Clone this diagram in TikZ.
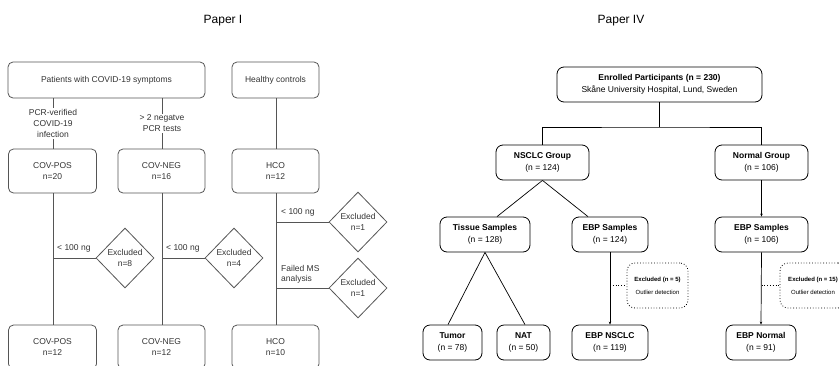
\documentclass[tikz,border=0pt]{standalone}
\usepackage{fontspec}
\setmainfont{Liberation Sans}
\usetikzlibrary{shapes.geometric,arrows.meta}
\definecolor{lg}{HTML}{555555}
\definecolor{lt}{HTML}{333333}
\tikzset{
  lbox/.style={draw=lg, line width=0.8pt, rounded corners=5pt, inner sep=1pt, align=center, text=lt, font=\fontsize{8.5}{10.5}\selectfont},
  ldia/.style={draw=lg, line width=0.8pt, diamond, inner sep=0pt, minimum width=58pt, minimum height=60pt, align=center, text=lt, font=\fontsize{8.5}{10.5}\selectfont},
  lline/.style={draw=lg, line width=0.8pt},
  llab/.style={text=lt, font=\fontsize{8.5}{10}\selectfont, inner sep=1pt},
  rbox/.style={draw=black, line width=0.8pt, rounded corners=7pt, inner sep=1pt, align=center, minimum height=35pt, font=\fontsize{8.5}{12.5}\selectfont},
  rexc/.style={draw=black, dotted, line width=0.8pt, rounded corners=8pt, inner sep=1pt, align=center, minimum width=61pt, minimum height=45pt, font=\fontsize{6}{13}\selectfont},
  rline/.style={draw=black, line width=0.7pt},
  rarr/.style={draw=black, line width=0.7pt, -{Stealth[length=3pt,width=2.5pt]}},
  title/.style={font=\fontsize{12}{14}\selectfont}
}
\begin{document}
\begin{tikzpicture}[x=1pt,y=-1pt]
\useasboundingbox (0,0) rectangle (839,365);
% titles
\node[title] (t1) at (223,21) {Paper I};
\node[title] (t2) at (621,21) {Paper IV};
% ---------- Paper I ----------
\node[lbox, minimum width=197pt, minimum height=36pt] (pat) at (106.5,80) {Patients with COVID-19 symptoms};
\node[lbox, minimum width=87pt, minimum height=36pt] (hc) at (275.5,80) {Healthy controls};
\node[lbox, minimum width=88pt, minimum height=44pt] (cp1) at (52.5,171) {COV-POS\\n=20};
\node[lbox, minimum width=87pt, minimum height=44pt] (cn1) at (161.5,171) {COV-NEG\\n=16};
\node[lbox, minimum width=87pt, minimum height=44pt] (hco1) at (275.5,171) {HCO\\n=12};
\node[lbox, minimum width=88pt, minimum height=44pt] (cp2) at (52.5,347) {COV-POS\\n=12};
\node[lbox, minimum width=87pt, minimum height=44pt] (cn2) at (161.5,347) {COV-NEG\\n=12};
\node[lbox, minimum width=87pt, minimum height=44pt] (hco2) at (275.5,347) {HCO\\n=10};
\node[ldia] (d1) at (125,258) {Excluded\\n=8};
\node[ldia] (d2) at (234,258) {Excluded\\n=4};
\node[ldia] (d3) at (358,222) {Excluded\\n=1};
\node[ldia] (d4) at (358,288) {Excluded\\n=1};
\coordinate (b1) at (53,258);
\coordinate (b2) at (162,258);
\coordinate (b3) at (276,222);
\coordinate (b4) at (276,288);
\draw[lline] (pat.south -| b1) -- node[fill=white, llab, align=center, font=\fontsize{8.5}{11}\selectfont] {PCR-verified\\COVID-19\\infection} (cp1.north -| b1);
\draw[lline] (pat.south -| b2) -- node[fill=white, llab, align=center, font=\fontsize{8.5}{11}\selectfont] {> 2 negatve\\PCR tests} (cn1.north -| b2);
\draw[lline] (hc.south -| b3) -- (hco1.north -| b3);
\draw[lline] (cp1.south -| b1) -- (cp2.north -| b1);
\draw[lline] (cn1.south -| b2) -- (cn2.north -| b2);
\draw[lline] (hco1.south -| b3) -- (hco2.north -| b3);
\draw[lline] (b1) -- (d1.west);
\draw[lline] (b2) -- (d2.west);
\draw[lline] (b3) -- (d3.west);
\draw[lline] (b4) -- (d4.west);
\node[llab, anchor=south west] (l1) at (56,253) {< 100 ng};
\node[llab, anchor=south west] (l2) at (165,253) {< 100 ng};
\node[llab, anchor=south west] (l3) at (280,217) {< 100 ng};
\node[llab, anchor=south west, align=left, font=\fontsize{8.5}{10}\selectfont] (l4) at (280,284) {Failed MS\\analysis};
% ---------- Paper IV ----------
\node[rbox, minimum width=205pt] (enr) at (659.5,84.5) {\textbf{Enrolled Participants (n = 230)}\\Skåne University Hospital, Lund, Sweden};
\node[rbox, minimum width=93pt] (nsc) at (542.5,162.5) {\textbf{NSCLC Group}\\(n = 124)};
\node[rbox, minimum width=93pt] (nor) at (761.5,162.5) {\textbf{Normal Group}\\(n = 106)};
\node[rbox, minimum width=90pt] (tis) at (485,234.5) {\textbf{Tissue Samples}\\(n = 128)};
\node[rbox, minimum width=76pt] (eb1) at (610,234.5) {\textbf{EBP Samples}\\(n = 124)};
\node[rbox, minimum width=93pt] (eb2) at (761.5,234.5) {\textbf{EBP Samples}\\(n = 106)};
\node[rbox, minimum width=59pt] (tum) at (452.5,342.5) {\textbf{Tumor}\\(n = 78)};
\node[rbox, minimum width=53pt] (nat) at (523.5,342.5) {\textbf{NAT}\\(n = 50)};
\node[rbox, minimum width=76pt] (ebn) at (610,342.5) {\textbf{EBP NSCLC}\\(n = 119)};
\node[rbox, minimum width=70pt] (ebm) at (761,342.5) {\textbf{EBP Normal}\\(n = 91)};
\node[rexc] (x1) at (657.5,285.5) {\textbf{Excluded (n = 5)}\\Outlier detection};
\node[rexc, minimum width=66pt] (x2) at (813,285.5) {\textbf{Excluded (n = 15)}\\Outlier detection};
\coordinate (j) at (659.5,127);
\draw[rline] (enr.south) -- (j);
\draw[rline] (nsc.north) |- (j) -| (nor.north);
\draw[rline] (nsc.south) -- (tis.north -| 497,0);
\draw[rline] (nsc.south) -- (eb1.north -| 588,0);
\draw[rline] (tis.south) -- (tum.north -| 448,0);
\draw[rline] (tis.south) -- (nat.north -| 525,0);
\draw[rarr] (eb1.south) -- (ebn.north);
\draw[rarr] (nor.south) -- (eb2.north);
\draw[rarr] (eb2.south) -- (ebm.north);
\draw[black, dotted, line width=0.8pt] (eb1.south |- x1.west) -- (x1.west);
\draw[black, dotted, line width=0.8pt] (eb2.south |- x2.west) -- (x2.west);
\end{tikzpicture}
\end{document}
